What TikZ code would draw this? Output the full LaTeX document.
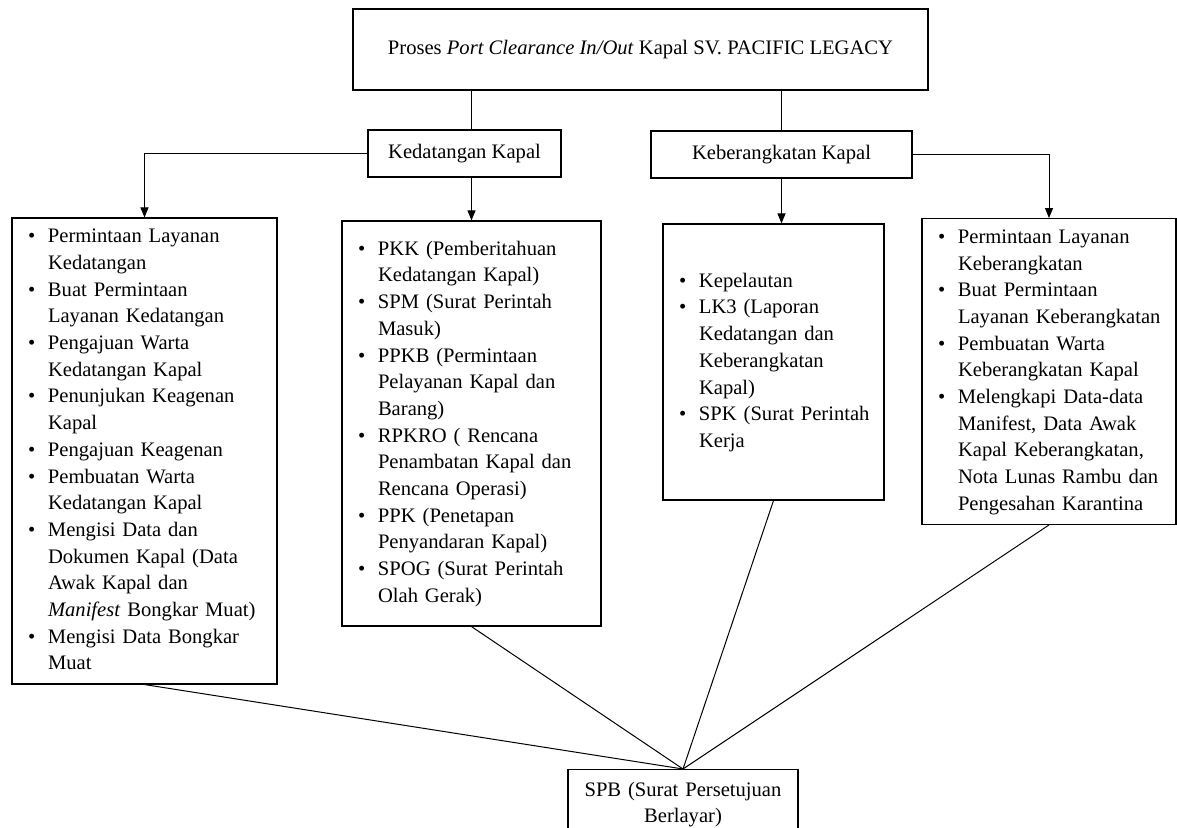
\documentclass[tikz,border=0pt]{standalone}
\usepackage{fontspec}
\setmainfont{Liberation Serif}
\usetikzlibrary{arrows.meta}

\begin{document}
\begin{tikzpicture}[x=0.5pt,y=-0.5pt,
        box/.style={draw,line width=0.6pt,inner sep=0pt,font=\fontsize{10.3}{13.35}\selectfont},
        listbox/.style={box,inner xsep=8pt,inner ysep=3pt,align=left},
        link/.style={line width=0.5pt},
        arr/.style={link,-{Triangle[length=5pt,width=4pt]}}]
        \useasboundingbox (0,0) rectangle (1177,828);
        \clip (0,0) rectangle (1177,828);
        % top
        \node[box,minimum width=287.5pt,minimum height=40.5pt] (proc) at (640.5,49.5)
            {Proses \textit{Port Clearance In/Out} Kapal SV. PACIFIC LEGACY};
        \node[box,minimum width=96.5pt,minimum height=23.5pt] (arrive) at (464.5,153.5) {Kedatangan Kapal};
        \node[box,minimum width=130.5pt,minimum height=23.5pt] (depart) at (781.5,154.5) {Keberangkatan Kapal};
        % lists
        \node[listbox,text width=116.5pt,minimum height=230pt] (box1) at (144.5,451) {%
            \begin{tabular}{@{}p{10pt}@{}l@{}}
            \textbullet & Permintaan Layanan\\
             & Kedatangan\\
            \textbullet & Buat Permintaan\\
             & Layanan Kedatangan\\
            \textbullet & Pengajuan Warta\\
             & Kedatangan Kapal\\
            \textbullet & Penunjukan Keagenan\\
             & Kapal\\
            \textbullet & Pengajuan Keagenan\\
            \textbullet & Pembuatan Warta\\
             & Kedatangan Kapal\\
            \textbullet & Mengisi Data dan\\
             & Dokumen Kapal (Data\\
             & Awak Kapal dan\\
             & \textit{Manifest} Bongkar Muat)\\
            \textbullet & Mengisi Data Bongkar\\
             & Muat
            \end{tabular}};
        \node[listbox,text width=113.5pt,minimum height=202.5pt] (box2) at (471.5,423.5) {%
            \begin{tabular}{@{}p{10pt}@{}l@{}}
            \textbullet & PKK (Pemberitahuan\\
             & Kedatangan Kapal)\\
            \textbullet & SPM (Surat Perintah\\
             & Masuk)\\
            \textbullet & PPKB (Permintaan\\
             & Pelayanan Kapal dan\\
             & Barang)\\
            \textbullet & RPKRO ( Rencana\\
             & Penambatan Kapal dan\\
             & Rencana Operasi)\\
            \textbullet & PPK (Penetapan\\
             & Penyandaran Kapal)\\
            \textbullet & SPOG (Surat Perintah\\
             & Olah Gerak)
            \end{tabular}};
        \node[listbox,text width=94.5pt,minimum height=138pt] (box3) at (773.5,362) {%
            \begin{tabular}{@{}p{10pt}@{}l@{}}
            \textbullet & Kepelautan\\
            \textbullet & LK3 (Laporan\\
             & Kedatangan dan\\
             & Keberangkatan\\
             & Kapal)\\
            \textbullet & SPK (Surat Perintah\\
             & Kerja
            \end{tabular}};
        \node[listbox,text width=111pt,minimum height=148.5pt] (box4) at (1049,371.5) {%
            \begin{tabular}{@{}p{10pt}@{}l@{}}
            \textbullet & Permintaan Layanan\\
             & Keberangkatan\\
            \textbullet & Buat Permintaan\\
             & Layanan Keberangkatan\\
            \textbullet & Pembuatan Warta\\
             & Keberangkatan Kapal\\
            \textbullet & Melengkapi Data-data\\
             & Manifest, Data Awak\\
             & Kapal Keberangkatan,\\
             & Nota Lunas Rambu dan\\
             & Pengesahan Karantina
            \end{tabular}};
        \node[box,inner xsep=4pt,text width=107pt,minimum height=35pt,align=center,anchor=north] (spb) at (683,769)
            {SPB (Surat Persetujuan\\ Berlayar)};
        % connectors
        \draw[link] (proc.south -| box2.north) -- (arrive.north -| box2.north);
        \draw[link] (proc.south -| depart.north) -- (depart.north);
        \draw[arr] (arrive.west) -| (box1.north);
        \draw[arr] (arrive.south -| box2.north) -- (box2.north);
        \draw[arr] (depart.south) -- (depart.south |- box3.north);
        \draw[arr] (depart.east) -| (box4.north);
        \foreach \b in {box1,box2,box3,box4}
            \draw[link] (\b.south) -- (spb.north);
\end{tikzpicture}
\end{document}
